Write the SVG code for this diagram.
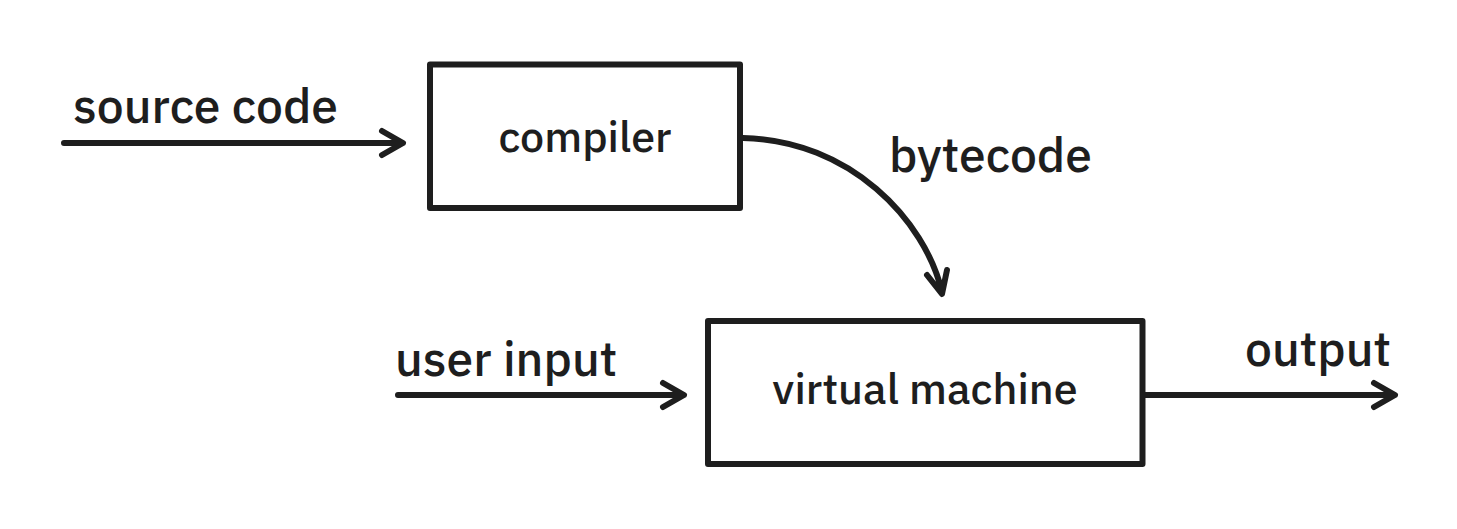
<svg xmlns="http://www.w3.org/2000/svg" width="1457" height="529" viewBox="0 0 1457 529">
<style>
.box{fill:#fff;stroke:#1e1e1e;stroke-width:6;stroke-linejoin:round}
.ln{fill:none;stroke:#1e1e1e;stroke-width:6;stroke-linecap:round;stroke-linejoin:round}
text{font-family:"IBM Plex Sans","Noto Sans","Liberation Sans",sans-serif;font-weight:500;fill:#1e1e1e}
.nl{font-size:43px}
.fl{font-size:48px}
</style>
<rect width="1457" height="529" fill="#fff"/>
<g id="compiler"><rect class="box" x="430" y="64.5" width="310" height="143.5"/><text class="nl" x="585" y="152" text-anchor="middle">compiler</text></g>
<g id="vm"><rect class="box" x="708" y="321" width="434.5" height="143"/><text class="nl" x="925" y="404" text-anchor="middle">virtual machine</text></g>
<g id="labels">
<text class="fl" x="73" y="123">source code</text>
<text class="fl" x="889" y="172">bytecode</text>
<text class="fl" x="395" y="376">user input</text>
<text class="fl" x="1245" y="366">output</text>
</g>
<g id="connectors">
<path class="ln" d="M64,143 H402 M382,131 L403,143 L382,155"/>
<path class="ln" d="M398,395 H683 M663,383 L684,395 L663,407"/>
<path class="ln" d="M1143,395 H1394 M1374,383 L1395,395 L1374,407"/>
<path class="ln" d="M743,138 C850,140 925,220 942,292 M927,275 L942,294 L947,270"/>
</g>
</svg>
